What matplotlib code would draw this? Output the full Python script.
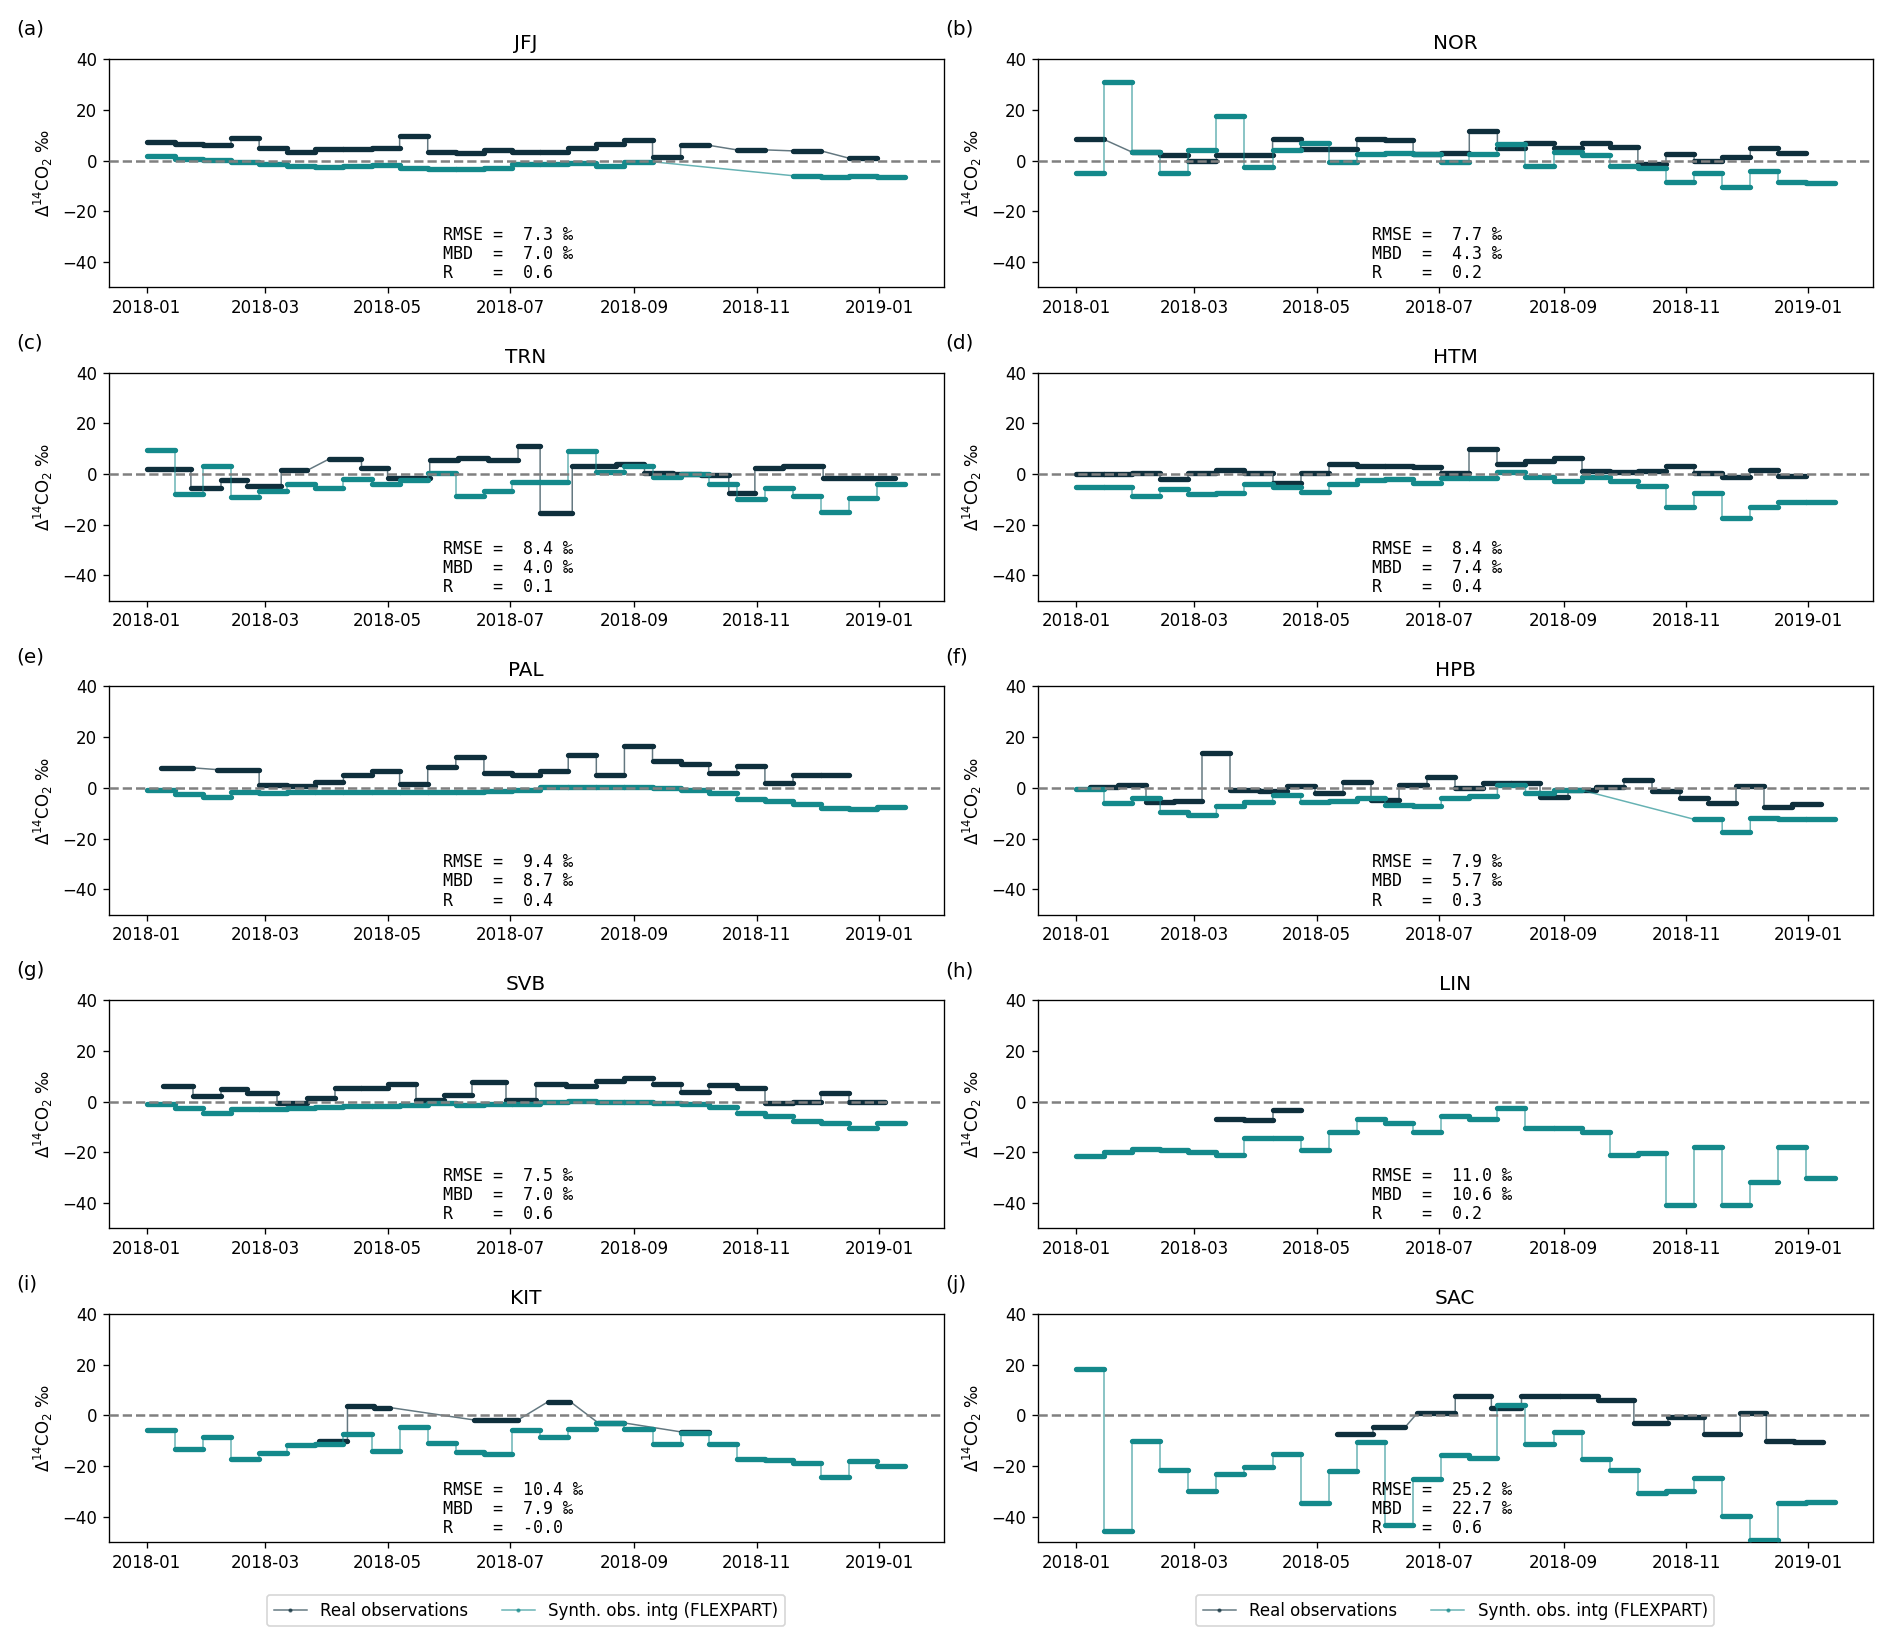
import numpy as np
import matplotlib
matplotlib.use('Agg')
import matplotlib.pyplot as plt
import matplotlib.dates as mdates

N = None

# sampling calendar: 14-day integration periods, days since 2018-01-01
GRID = [0, 14, 28, 42, 56, 70, 84, 98, 112, 126, 140, 154, 168, 182, 196,
        210, 224, 238, 252, 266, 280, 294, 308, 322, 336, 350, 364, 378]

STATIONS = ["JFJ", "NOR", "TRN", "HTM", "PAL", "HPB", "SVB", "LIN", "KIT", "SAC"]
PANEL_TAGS = ["(a)", "(b)", "(c)", "(d)", "(e)", "(f)", "(g)", "(h)", "(i)", "(j)"]
RMSE = [7.3, 7.7, 8.4, 8.4, 9.4, 7.9, 7.5, 11.0, 10.4, 25.2]
MBD = [7.0, 4.3, 4.0, 7.4, 8.7, 5.7, 7.0, 10.6, 7.9, 22.7]
R = [0.6, 0.2, 0.1, 0.4, 0.4, 0.3, 0.6, 0.2, -0.0, 0.6]

JFJ_obs = [7.5, 6.5, 6.3, 9.0, 5.0, 3.5, 4.5, 4.7, 5.0, 9.5, 3.5, 3.0, 4.0, 3.5,
           3.5, 5.0, 6.5, 8.0, 1.5, 6.0, N, 4.2, N, 3.8, N, 0.9, N]
JFJ_syn = [1.7, 0.5, 0.3, -0.4, -1.2, -2.0, -2.5, -2.0, -1.7, -3.0, -3.5, -3.5, -2.8, -1.5,
           -1.5, -0.8, -2.0, -0.5, N, N, N, N, N, -6.0, -6.5, -6.0, -6.5]

NOR_obs = [8.3, N, 3.3, 2.3, 0.0, 2.2, 2.2, 8.5, 4.5, 4.5, 8.5, 8.0, 2.5, 2.8,
           11.5, 5.0, 7.0, 5.0, 7.0, 5.5, -1.5, 2.5, 0.0, 1.5, 5.0, 3.0, N]
NOR_syn = [-5.0, 31.0, 3.5, -5.0, 4.0, 17.5, -2.5, 4.0, 6.8, -0.5, 2.5, 3.0, 2.5, -0.5,
           2.5, 6.5, -2.0, 3.2, 2.0, -2.0, -2.8, -8.3, -5.0, -10.5, -4.0, -8.3, -9.0]

TRN_obs_t = [0, 22, 37, 50, 67, 80, 91, 107, 120, 141, 155, 170, 185, 196, 212, 234,
             248, 262, 276, 290, 303, 317, 337, 373]
TRN_obs = [2.0, -5.3, -2.5, -4.5, 1.5, N, 6.0, 2.5, -1.5, 5.5, 6.5, 5.5, 11.0, -15.5,
           3.0, 4.0, 0.3, 0.0, -0.5, -7.5, 2.3, 3.0, -1.5]
TRN_syn = [9.7, -8.0, 3.0, -9.0, -6.8, -4.0, -5.3, -2.0, -4.0, -2.5, 0.5, -8.8, -6.8, -3.0,
           -3.2, 9.3, 1.0, 3.2, -1.0, 0.0, -3.8, -9.8, -5.3, -8.5, -15.0, -9.5, -4.0]

HTM_obs = [0.0, 0.0, 0.5, -2.0, 0.6, 1.8, 0.6, -3.5, 0.4, 3.9, 3.1, 3.0, 2.8, 0.3,
           10.0, 3.9, 5.0, 6.5, 1.4, 1.0, 1.3, 3.3, 0.4, -1.0, 1.8, -0.8, N]
HTM_syn = [-5.0, -5.0, -8.6, -6.0, -8.0, -7.5, -4.0, -5.0, -7.0, -4.0, -2.4, -2.0, -3.4, -1.4,
           -1.7, 0.8, -1.3, -2.9, -1.0, -2.7, -4.5, -13.0, -7.5, -17.3, -13.0, -11.0, -11.1]

PAL_obs_t = [7, 23, 35, 56, 70, 84, 98, 112, 126, 140, 154, 168, 182, 196, 210, 224,
             238, 252, 266, 280, 294, 308, 322, 336, 350]
PAL_obs = [7.9, N, 7.2, 1.3, 0.8, 2.5, 5.2, 6.8, 1.6, 8.2, 12.3, 6.0, 5.0, 6.5,
           13.0, 5.0, 16.4, 10.5, 9.6, 6.0, 8.5, 2.0, 5.0, 5.2]
PAL_syn = [-0.8, -2.5, -3.5, -1.6, -2.1, -1.8, -1.8, -1.5, -1.8, -1.8, -1.5, -1.8, -1.2, -0.8,
           0.2, 0.5, 0.5, 0.5, 0.0, -1.0, -2.0, -4.3, -5.0, -6.5, -8.0, -8.5, -7.5]

HPB_obs_t = [7, 21, 35, 49, 63, 77, 91, 105, 119, 133, 147, 161, 175, 189, 203, 217,
             231, 245, 259, 273, 287, 301, 315, 329, 343, 357, 371]
HPB_obs = [0.5, 1.0, -5.6, -5.1, 13.9, -0.9, -1.4, 0.8, -2.0, 2.5, -4.8, 1.0, 4.2, 0.1,
           2.1, 1.8, -3.5, -1.0, 0.5, 3.0, -1.4, -4.2, -6.0, 0.6, -7.6, -6.3]
HPB_syn = [-0.6, -6.0, -4.0, -9.4, -10.7, -7.0, -5.5, -3.0, -5.5, -5.0, -3.9, -6.8, -7.3, -4.0,
           -3.4, 1.0, -2.2, -0.9, N, N, N, N, -12.4, -17.3, -11.9, -12.3, -12.3]

SVB_obs_t = [8, 23, 37, 50, 65, 80, 94, 107, 120, 134, 148, 162, 179, 194, 209, 224,
             238, 252, 266, 280, 294, 308, 322, 336, 350, 368]
SVB_obs = [6.2, 2.1, 5.1, 3.4, -0.4, 1.4, 5.2, 5.2, 7.0, 0.8, 2.7, 7.7, 0.5, 7.0,
           6.0, 8.1, 9.4, 7.0, 3.7, 6.5, 5.5, -0.5, 0.0, 3.4, -0.1]
SVB_syn = [-0.8, -2.5, -4.5, -2.8, -2.8, -2.5, -2.0, -1.8, -1.8, -1.5, -0.5, -1.5, -1.0, -1.0,
           -0.3, 0.3, 0.0, 0.0, -0.5, -1.0, -2.3, -4.5, -5.5, -7.5, -8.5, -10.5, -8.5]

LIN_obs = [N, N, N, N, N, -7.0, -7.2, -3.3, N, N, N, N, N, N,
           N, N, N, N, N, N, N, N, N, N, N, N, N]
LIN_syn = [-21.5, -20.0, -18.8, -19.2, -19.8, -21.0, -14.4, -14.5, -19.0, -11.8, -6.9, -8.5, -11.8, -5.5,
           -6.9, -2.5, -10.3, -10.4, -12.0, -21.0, -20.4, -40.6, -18.0, -40.6, -31.8, -18.0, -30.2]

KIT_obs_t = [86, 100, 113, 121, 163, 185, 200, 211, 225, 238, 266, 280]
KIT_obs = [-10.2, 3.7, 3.1, N, -1.8, N, 5.4, N, -3.0, N, -6.5]
KIT_syn = [-5.9, -13.1, -8.5, -17.2, -15.0, -11.5, -11.2, -7.5, -13.9, -4.5, -10.8, -14.4, -15.4, -5.9,
           -8.7, -5.5, -3.1, -5.5, -11.2, -6.8, -11.4, -17.1, -17.6, -18.6, -24.3, -18.0, -20.1]

SAC_obs_t = [130, 148, 164, 170, 189, 207, 222, 241, 260, 278, 295, 313, 331, 344, 358, 372]
SAC_obs = [-7.3, -4.7, N, 0.8, 7.5, 2.8, 7.6, 7.6, 5.9, -3.0, -0.7, -7.2, 0.9, -10.2, -10.5]
SAC_syn = [18.1, -45.8, -10.2, -21.7, -29.9, -23.1, -20.2, -15.4, -34.6, -21.9, -10.6, -43.3, -25.2, -15.7,
           -16.7, 3.9, -11.2, -6.4, -17.2, -21.5, -30.6, -29.7, -24.9, -39.6, -49.1, -34.4, -34.0]

SERIES = {
    "JFJ": ((GRID, JFJ_obs), (GRID, JFJ_syn)),
    "NOR": ((GRID, NOR_obs), (GRID, NOR_syn)),
    "TRN": ((TRN_obs_t, TRN_obs), (GRID, TRN_syn)),
    "HTM": ((GRID, HTM_obs), (GRID, HTM_syn)),
    "PAL": ((PAL_obs_t, PAL_obs), (GRID, PAL_syn)),
    "HPB": ((HPB_obs_t, HPB_obs), (GRID, HPB_syn)),
    "SVB": ((SVB_obs_t, SVB_obs), (GRID, SVB_syn)),
    "LIN": ((GRID, LIN_obs), (GRID, LIN_syn)),
    "KIT": ((KIT_obs_t, KIT_obs), (GRID, KIT_syn)),
    "SAC": ((SAC_obs_t, SAC_obs), (GRID, SAC_syn)),
}

OBS_COL = "#0f2f3c"
SYN_COL = "#14898b"
T0 = np.datetime64("2018-01-01")


def day(d):
    return T0 + np.timedelta64(int(d), "D")


def draw_series(ax, edges, vals, color, label, z):
    px, py = [], []
    for i, v in enumerate(vals):
        if v is None:
            continue
        x0, x1 = day(edges[i]), day(edges[i + 1])
        ax.plot([x0, x1], [v, v], lw=3.2, color=color, solid_capstyle="round", zorder=z + 1)
        px += [x0, x1]
        py += [v, v]
    # thin connector through all period end points
    ax.plot(px, py, lw=0.9, color=color, alpha=0.65, marker=".", ms=3, label=label, zorder=z)


fig = plt.figure(figsize=(1892 / 120, 1647 / 120), dpi=120)

lefts = [0.0574, 0.5485]
bottoms = [0.8256, 0.6352, 0.4447, 0.2542, 0.0637]
w, h = 0.4413, 0.1385

for i, stn in enumerate(STATIONS):
    row, col = divmod(i, 2)
    ax = fig.add_axes([lefts[col], bottoms[row], w, h])
    (oe, ov), (se, sv) = SERIES[stn]
    draw_series(ax, oe, ov, OBS_COL, "Real observations", 2)
    draw_series(ax, se, sv, SYN_COL, "Synth. obs. intg (FLEXPART)", 4)
    ax.axhline(0, color="gray", ls="--", lw=1.5, zorder=10)

    ax.set_ylim(-50, 40)
    ax.set_yticks([-40, -20, 0, 20, 40])
    ax.set_xlim(day(-19), day(397))
    ax.xaxis.set_major_locator(mdates.MonthLocator(bymonth=[1, 3, 5, 7, 9, 11]))
    ax.xaxis.set_major_formatter(mdates.DateFormatter("%Y-%m"))
    ax.set_ylabel("Δ$^{14}$CO$_2$ ‰")
    ax.set_title(stn)

    stats = (f"RMSE =  {RMSE[i]:.1f} ‰\n"
             f"MBD  =  {MBD[i]:.1f} ‰\n"
             f"R    =  {R[i]:.1f}")
    ax.text(0.4, 0.022, stats, transform=ax.transAxes, family="DejaVu Sans Mono",
            fontsize=10, va="bottom", ha="left", linespacing=1.08, zorder=12)

    fig.text(lefts[col] - 0.049, bottoms[row] + h + 0.018, PANEL_TAGS[i], fontsize=12,
             ha="left", va="center")

    if row == 4:
        ax.legend(loc="center", bbox_to_anchor=(0.5, -0.30), ncol=2, fontsize=10)

fig.savefig("out.png", dpi=120)
